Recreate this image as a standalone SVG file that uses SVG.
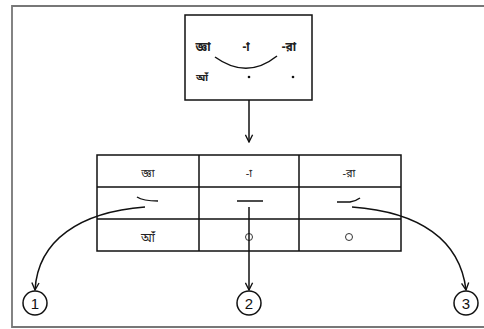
<svg xmlns="http://www.w3.org/2000/svg" width="484" height="329" viewBox="0 0 484 329">
<defs>
<style>
.ln{stroke:#111;stroke-width:1.5;fill:none}
.bx{stroke:#111;stroke-width:1.5;fill:#fff}
.t{font-family:"Noto Sans Bengali","Lohit Bengali","Noto Sans",sans-serif;text-anchor:middle;fill:#222}
.n{font-family:"Liberation Sans",Arial,sans-serif;font-size:15px;text-anchor:middle;fill:#111}
</style>
<marker id="ah" viewBox="0 0 10 10" refX="9" refY="5" markerWidth="9" markerHeight="9" markerUnits="userSpaceOnUse" orient="auto">
<path d="M1,1 L9,5 L1,9" fill="none" stroke="#111" stroke-width="1.5"/>
</marker>
</defs>
<rect width="484" height="329" fill="#fff"/>
<path d="M484,6 H12 V327 H484" fill="none" stroke="#777" stroke-width="1.8"/>

<g id="summary">
<rect class="bx" x="185" y="15" width="127" height="85"/>
<text class="t" x="203" y="51" font-size="12" font-weight="bold">জ্ঞা</text>
<text class="t" x="246" y="51" font-size="12" font-weight="bold">-া</text>
<text class="t" x="289" y="51" font-size="12" font-weight="bold">-রা</text>
<path class="ln" d="M215,57 Q247,80 277,56"/>
<text class="t" x="202" y="81" font-size="10" font-weight="bold">আঁ</text>
<circle cx="249" cy="77" r="1.3" fill="#111"/>
<circle cx="293" cy="77" r="1.3" fill="#111"/>
</g>

<g id="table">
<rect class="bx" x="97" y="155" width="304" height="96"/>
<path class="ln" d="M97,187 H401 M97,219 H401 M199,155 V251 M299,155 V251"/>
<text class="t" x="148" y="177" font-size="11">জ্ঞা</text>
<text class="t" x="249" y="177" font-size="11">-া</text>
<text class="t" x="349" y="177" font-size="11">-রা</text>
<path class="ln" d="M137,197 Q143,201 158,201" stroke-width="1.2"/>
<path class="ln" d="M237,201 H263" stroke-width="1.2"/>
<path class="ln" d="M337,202 L350,202 Q356,201 360,198" stroke-width="1.2"/>
<text class="t" x="148" y="242" font-size="12">আঁ</text>
<circle cx="249" cy="237" r="3.5" fill="none" stroke="#333" stroke-width="1"/>
<circle cx="349" cy="237" r="3.5" fill="none" stroke="#333" stroke-width="1"/>
</g>

<g id="connectors">
<path class="ln" d="M249,100 V142" marker-end="url(#ah)"/>
<path class="ln" d="M145,207 C80,212 38,240 35,290" marker-end="url(#ah)"/>
<path class="ln" d="M249,207 V290" marker-end="url(#ah)"/>
<path class="ln" d="M352,207 C420,212 460,240 466,290" marker-end="url(#ah)"/>
</g>

<g id="n1"><circle cx="35" cy="303" r="12" class="bx"/><text class="n" x="35" y="308.5">1</text></g>
<g id="n2"><circle cx="249" cy="303" r="12" class="bx"/><text class="n" x="249" y="308.5">2</text></g>
<g id="n3"><circle cx="466" cy="303" r="12" class="bx"/><text class="n" x="466" y="308.5">3</text></g>
</svg>
